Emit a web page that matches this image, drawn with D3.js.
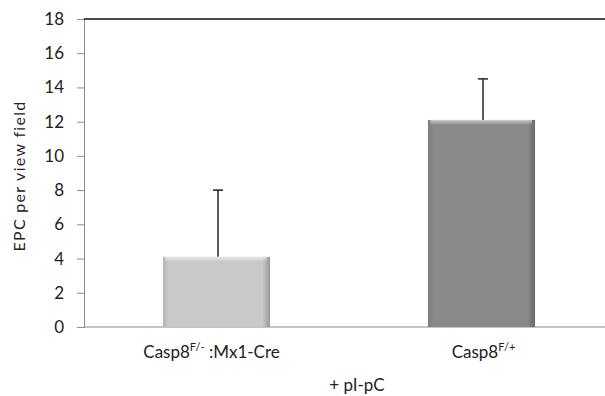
<!DOCTYPE html>
<html>
<head>
<meta charset="utf-8">
<script src="https://cdn.jsdelivr.net/npm/d3@7"></script>
<style>
  html, body { margin: 0; padding: 0; background: #fff; }
  svg { display: block; font-family: Lato, "Open Sans", sans-serif; }
</style>
</head>
<body>
<svg id="chart" width="605" height="396"></svg>
<script>
// Data
const groups = ["mx1", "ctrl"];
const groupBase = ["Casp8", "Casp8"];
const groupSup = ["F/-", "F/+"];
const groupSuffix = [" :Mx1-Cre", ""];
const means = [4.1, 12.1];
const errors = [3.9, 2.4];
const barColors = ["#c9c9c9", "#8a8a8a"];
const yTicks = [0, 2, 4, 6, 8, 10, 12, 14, 16, 18];

const svg = d3.select("#chart");
const plotLeft = 84, plotRight = 614, plotTop = 19, plotBottom = 327;

const x = d3.scaleBand().domain(groups).range([plotLeft, plotRight]).paddingInner(0.596).paddingOuter(0.298);
const y = d3.scaleLinear().domain([0, 18]).range([plotBottom, plotTop]);

// Bevel gradients for each bar
const defs = svg.append("defs");
groups.forEach((g, i) => {
  const c = d3.color(barColors[i]);
  const grad = defs.append("linearGradient").attr("id", "h" + i).attr("x1", 0).attr("x2", 1).attr("y1", 0).attr("y2", 0);
  grad.append("stop").attr("offset", 0).attr("stop-color", c.darker(0.3));
  grad.append("stop").attr("offset", 0.05).attr("stop-color", c);
  grad.append("stop").attr("offset", 0.93).attr("stop-color", c);
  grad.append("stop").attr("offset", 1).attr("stop-color", c.darker(0.8));
  const vg = defs.append("linearGradient").attr("id", "v" + i).attr("x1", 0).attr("x2", 0).attr("y1", 0).attr("y2", 1);
  vg.append("stop").attr("offset", 0).attr("stop-color", "#fff").attr("stop-opacity", 0.55);
  vg.append("stop").attr("offset", 1).attr("stop-color", "#fff").attr("stop-opacity", 0);
});

// Y axis
const yAxis = svg.append("g").attr("transform", `translate(${plotLeft},0)`)
  .call(d3.axisLeft(y).tickValues(yTicks).tickSize(7).tickPadding(13));
yAxis.select(".domain").attr("stroke", "#8c8c8c");
yAxis.selectAll(".tick line").attr("stroke", "#8c8c8c");
yAxis.selectAll(".tick text").attr("font-size", 17).attr("fill", "#222").attr("font-family", "Lato, sans-serif");

// Baseline and top border
svg.append("line").attr("x1", plotLeft).attr("x2", 605).attr("y1", y(0)).attr("y2", y(0)).attr("stroke", "#8c8c8c");
svg.append("line").attr("x1", plotLeft).attr("x2", 605).attr("y1", y(18)).attr("y2", y(18)).attr("stroke", "#111").attr("stroke-width", 1.5);

// Error bars (upper only)
groups.forEach((g, i) => {
  const cx = x(g) + x.bandwidth() / 2 + 1.5;
  svg.append("line").attr("x1", cx).attr("x2", cx).attr("y1", y(means[i])).attr("y2", y(means[i] + errors[i]))
    .attr("stroke", "#222").attr("stroke-width", 1.5);
  svg.append("line").attr("x1", cx - 5).attr("x2", cx + 5).attr("y1", y(means[i] + errors[i])).attr("y2", y(means[i] + errors[i]))
    .attr("stroke", "#222").attr("stroke-width", 1.5);
});

// Bars
groups.forEach((g, i) => {
  const bx = x(g), bw = x.bandwidth(), by = y(means[i]), bh = y(0) - y(means[i]);
  svg.append("rect").attr("x", bx).attr("y", by).attr("width", bw).attr("height", bh).attr("fill", `url(#h${i})`);
  svg.append("rect").attr("x", bx + 2).attr("y", by).attr("width", bw - 5).attr("height", 5).attr("fill", `url(#v${i})`);
});

// Category labels
const labelOffset = [-5, 2];
groups.forEach((g, i) => {
  const t = svg.append("text").attr("x", x(g) + x.bandwidth() / 2 + labelOffset[i]).attr("y", 358)
    .attr("text-anchor", "middle").attr("font-size", 17).attr("fill", "#222");
  t.append("tspan").text(groupBase[i]);
  t.append("tspan").attr("font-size", 11).attr("dy", -7).text(groupSup[i]);
  if (groupSuffix[i]) t.append("tspan").attr("dy", 7).text(groupSuffix[i]);
});

// Axis titles
svg.append("text").attr("x", 357).attr("y", 391).attr("text-anchor", "middle")
  .attr("font-size", 17).attr("fill", "#222").text("+ pI-pC");
svg.append("text").attr("transform", `translate(25,176) rotate(-90)`)
  .attr("text-anchor", "middle").attr("font-size", 16).attr("letter-spacing", 1.3)
  .attr("fill", "#222").text("EPC per view field");
</script>
</body>
</html>
